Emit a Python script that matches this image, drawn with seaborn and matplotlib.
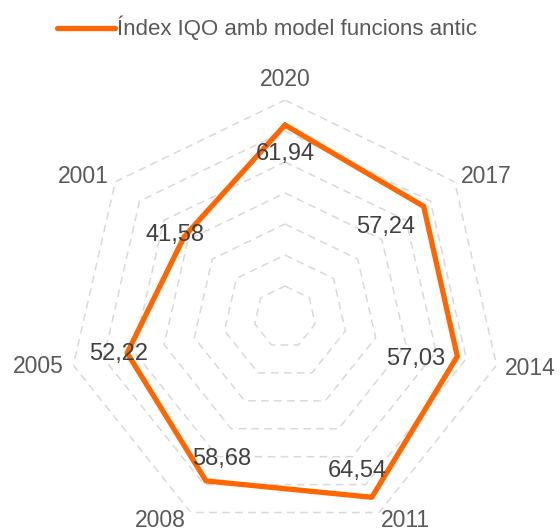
import numpy as np
import matplotlib
matplotlib.use("Agg")
import matplotlib.pyplot as plt
import seaborn as sns
from matplotlib.lines import Line2D

years = ["2020", "2017", "2014", "2011", "2008", "2005", "2001"]
values = [61.94, 57.24, 57.03, 64.54, 58.68, 52.22, 41.58]
value_labels = ["61,94", "57,24", "57,03", "64,54", "58,68", "52,22", "41,58"]
grid_levels = [10, 20, 30, 40, 50, 60, 70]
series_name = "Índex IQO amb model funcions antic"

# label offsets in points (dx, dy)
label_offsets = [(0, -21), (-27.5, -14.7), (-30, -2), (-10.5, 19), (11, 16), (-6.5, -1), (-6.5, 1.5)]
year_offsets = [(0, 15), (23, 3.6), (24.5, -2), (19, -5.8), (-22, -5.8), (-25.5, -1), (-23, 3.6)]

sns.set_theme(style="white")
plt.rcParams['font.family'] = ['Liberation Sans', 'DejaVu Sans']

ORANGE = "#FF6600"
TXT = "#595959"
GRID = "#D9D9D9"

fig = plt.figure(figsize=(5.6, 5.29), dpi=100)
ax = fig.add_axes([0.1214, -0.0095, 0.775, 0.8204], projection="polar")
ax.set_theta_zero_location("N")
ax.set_theta_direction(-1)

n = len(years)
theta = np.arange(n) * 2 * np.pi / n
theta_c = np.append(theta, theta[0])

for lv in grid_levels:
    ax.plot(theta_c, [lv] * (n + 1), color=GRID, lw=1.1, ls=(0, (5, 3.5)), zorder=1)

vals_c = np.append(values, values[0])
sns.lineplot(x=theta_c, y=vals_c, sort=False, ax=ax, color=ORANGE, lw=3.8,
             zorder=3, estimator=None)

for t, v, lab, off in zip(theta, values, value_labels, label_offsets):
    ax.annotate(lab, (t, v), xytext=off, textcoords="offset points",
                ha="center", va="center", fontsize=17, color="#404040", zorder=4)

for t, y, off in zip(theta, years, year_offsets):
    ax.annotate(y, (t, grid_levels[-1]), xytext=off, textcoords="offset points",
                ha="center", va="center", fontsize=16.5, color=TXT,
                annotation_clip=False)

ax.set_ylim(0, 70)
ax.set_xticks([])
ax.set_yticks([])
ax.grid(False)
ax.spines["polar"].set_visible(False)
ax.set_facecolor("none")
ax.set_xlabel("")
ax.set_ylabel("")

h = Line2D([0], [0], color=ORANGE, lw=3.8, solid_capstyle="round")
fig.legend([h], [series_name], loc="center", bbox_to_anchor=(0.477, 0.947),
           frameon=False, fontsize=16, handlelength=2.6, handletextpad=0.1,
           labelcolor=TXT)

fig.savefig("out.png", dpi=100)
